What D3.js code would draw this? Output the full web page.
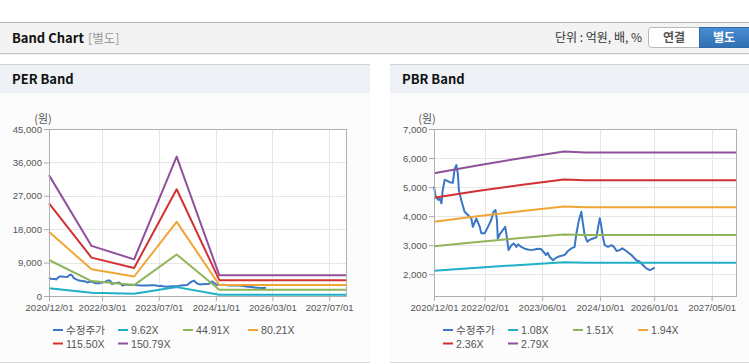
<!DOCTYPE html>
<html>
<head>
<meta charset="utf-8">
<script src="https://cdn.jsdelivr.net/npm/d3@7"></script>
<style>
    html, body { margin: 0; padding: 0; background: #fff; }
    svg { display: block; font-family: "Noto Sans CJK KR", sans-serif; }
    .tick text { font-family: "Liberation Sans", Arial, sans-serif; font-size: 9.6px; fill: #555; }
    .tick line { stroke: #aaa; }
    .grid line { stroke: #e6e6e6; shape-rendering: crispEdges; }
    .band-line { fill: none; stroke-width: 2; stroke-linejoin: round; }
    .legend text { font-family: "Liberation Sans", "Noto Sans CJK KR", sans-serif; font-size: 10.6px; fill: #555; }
</style>
</head>
<body>
<svg id="page" width="749" height="364"></svg>
<script>
'use strict';

// shared x domain
var xDomain = ['2020-12-01', '2027-12-01'];

// 수정주가 (adjusted close)
var priceDates = [
    '2020-12-01', '2020-12-15', '2021-01-06', '2021-01-19', '2021-02-02', '2021-02-13',
    '2021-03-01', '2021-03-16', '2021-04-11', '2021-05-09', '2021-05-23', '2021-06-07',
    '2021-06-20', '2021-06-29', '2021-07-18', '2021-08-16', '2021-09-13', '2021-10-12',
    '2021-10-25', '2021-11-23', '2021-12-22', '2022-01-04', '2022-02-02', '2022-03-01',
    '2022-03-28', '2022-04-17', '2022-05-04', '2022-05-16', '2022-05-23', '2022-06-13',
    '2022-07-04', '2022-07-25', '2022-08-07', '2022-08-22', '2022-09-15', '2022-10-04',
    '2022-10-27', '2022-11-10', '2022-12-07', '2023-01-05', '2023-02-02', '2023-03-01',
    '2023-03-28', '2023-04-25', '2023-05-22', '2023-06-19', '2023-07-04', '2023-07-19',
    '2023-08-03', '2023-09-01', '2023-09-28', '2023-10-26', '2023-12-07', '2024-01-05',
    '2024-02-03', '2024-03-01', '2024-03-16', '2024-04-07', '2024-04-27', '2024-05-10',
    '2024-05-25', '2024-06-16', '2024-07-05', '2024-08-03', '2024-09-01', '2024-09-16',
    '2024-09-30', '2024-10-13', '2024-10-27', '2024-11-10', '2024-12-08', '2025-01-06',
    '2025-01-28', '2025-02-18', '2025-03-16', '2025-04-08', '2025-05-11', '2025-06-23',
    '2025-08-04', '2025-09-01', '2025-09-30', '2025-10-27', '2025-11-25', '2025-12-10',
    '2026-01-06'
];
var priceValues = [
    5020, 4670, 4560, 4600, 4440, 4900,
    5250, 5230, 5170, 5150, 5600, 5760,
    5470, 4900, 4560, 4150, 4040, 3920,
    3630, 3920, 3630, 3410, 3410, 3630,
    3860, 4150, 4210, 3860, 3230, 3400,
    3520, 3630, 3290, 2830, 3000, 3060,
    2940, 3030, 2940, 2880, 2850, 2830,
    2850, 2880, 2870, 2740, 2660, 2740,
    2600, 2480, 2570, 2620, 2660, 2800,
    2890, 2940, 3400, 3870, 4150, 3750,
    3350, 3120, 3180, 3230, 3270, 3640,
    3930, 3640, 3250, 3000, 2940, 3000,
    2940, 2800, 2830, 2890, 2800, 2660,
    2480, 2430, 2310, 2200, 2140, 2170,
    2230
];

// PER band
var perDates = ['2020-12-01', '2021-12-01', '2022-12-01', '2023-12-01', '2024-12-01', '2025-12-01', '2026-12-01', '2027-12-01'];
var per962 = [2078, 861, 630, 2395, 356, 356, 356, 356];
var per4491 = [9700, 4019, 2942, 11183, 1662, 1662, 1662, 1662];
var per8021 = [17325, 7179, 5254, 19972, 2968, 2968, 2968, 2968];
var per11550 = [24948, 10337, 7565, 28760, 4274, 4274, 4274, 4274];
var per15079 = [32571, 13496, 9877, 37547, 5579, 5579, 5579, 5579];
var perYTicks = [0, 9000, 18000, 27000, 36000, 45000];
var perXTicks = ['2020-12-01', '2022-03-01', '2023-07-01', '2024-11-01', '2026-03-01', '2027-07-01'];

// PBR band
var pbrDates = ['2020-12-01', '2021-12-01', '2022-12-01', '2023-12-01', '2024-06-01', '2027-12-01'];
var pbr108 = [2121, 2225, 2320, 2409, 2397, 2397];
var pbr151 = [2966, 3111, 3243, 3369, 3351, 3351];
var pbr194 = [3810, 3996, 4167, 4328, 4305, 4305];
var pbr236 = [4635, 4862, 5069, 5265, 5237, 5237];
var pbr279 = [5480, 5747, 5993, 6224, 6191, 6191];
var pbrYTicks = [2000, 3000, 4000, 5000, 6000, 7000];
var pbrXTicks = ['2020-12-01', '2022-02-01', '2023-06-01', '2024-10-01', '2026-01-01', '2027-05-01'];

var colors = ['#3b77c6', '#1fafc6', '#8fb556', '#f0a634', '#d33131', '#8f509c'];

var parseDate = d3.utcParse('%Y-%m-%d');
var svg = d3.select('#page');

var drawHeader = function(){

    svg.append('rect')
        .attr('x', 0).attr('y', 22)
        .attr('width', 749).attr('height', 31)
        .style('fill', '#f3f3f3')
    ;
    svg.append('line')
        .attr('x1', 0).attr('x2', 749).attr('y1', 22.5).attr('y2', 22.5)
        .style('stroke', '#b4b4b4')
    ;
    svg.append('line')
        .attr('x1', 0).attr('x2', 749).attr('y1', 53.5).attr('y2', 53.5)
        .style('stroke', '#c6c6c6')
    ;
    svg.append('line')
        .attr('x1', 0).attr('x2', 749).attr('y1', 54.5).attr('y2', 54.5)
        .style('stroke', '#ececec')
    ;

    svg.append('text')
        .attr('x', 12).attr('y', 43)
        .style('font-size', '13px').style('font-weight', 'bold').style('fill', '#111')
        .text('Band Chart')
    ;
    svg.append('text')
        .attr('x', 88).attr('y', 43)
        .style('font-size', '12.5px').style('fill', '#999')
        .text('[별도]')
    ;
    svg.append('text')
        .attr('x', 642).attr('y', 42)
        .attr('text-anchor', 'end')
        .style('font-size', '12px').style('fill', '#333')
        .text('단위 : 억원, 배, %')
    ;

    svg.append('rect')
        .attr('x', 648.5).attr('y', 27.5)
        .attr('width', 55).attr('height', 20).attr('rx', 3)
        .style('fill', '#fff').style('stroke', '#b8b8b8')
    ;
    svg.append('text')
        .attr('x', 674).attr('y', 42)
        .attr('text-anchor', 'middle')
        .style('font-size', '12px').style('font-weight', 'bold').style('fill', '#555')
        .text('연결')
    ;

    var grad = svg.append('defs').append('linearGradient')
        .attr('id', 'btnBlue').attr('x1', 0).attr('x2', 0).attr('y1', 0).attr('y2', 1)
    ;
    grad.append('stop').attr('offset', 0).style('stop-color', '#4b8fd2');
    grad.append('stop').attr('offset', 1).style('stop-color', '#2f6fb3');

    svg.append('rect')
        .attr('x', 699.5).attr('y', 27.5)
        .attr('width', 52).attr('height', 20)
        .style('fill', 'url(#btnBlue)').style('stroke', '#2f6aa8')
    ;
    svg.append('text')
        .attr('x', 724).attr('y', 42)
        .attr('text-anchor', 'middle')
        .style('font-size', '12px').style('font-weight', 'bold').style('fill', '#fff')
        .text('별도')
    ;
};

var drawPanel = function(cfg){

    var g = svg.append('g')
        .attr('transform', 'translate(' + cfg.left + ',0)')
    ;

    g.append('rect')
        .attr('x', 0).attr('y', 64)
        .attr('width', cfg.width).attr('height', 299)
        .style('fill', '#fcfcfc')
    ;
    g.append('rect')
        .attr('x', 0).attr('y', 64)
        .attr('width', cfg.width).attr('height', 29)
        .style('fill', '#eef2f7')
    ;
    g.append('line')
        .attr('x1', 0).attr('x2', cfg.width).attr('y1', 64.5).attr('y2', 64.5)
        .style('stroke', '#d4d4d4')
    ;
    g.append('line')
        .attr('x1', 0).attr('x2', cfg.width).attr('y1', 362.5).attr('y2', 362.5)
        .style('stroke', '#d8d8d8')
    ;
    g.append('text')
        .attr('x', 12).attr('y', 84)
        .style('font-size', '13px').style('font-weight', 'bold').style('fill', '#111')
        .text(cfg.title)
    ;

    var plot = cfg.plot;
    var width = plot.right - plot.left;
    var height = plot.bottom - plot.top;

    var x = d3.scaleUtc()
        .domain(xDomain.map(parseDate))
        .range([0, width]);

    var y = d3.scaleLinear()
        .domain(cfg.yDomain)
        .range([height, 0]);

    var p = g.append('g')
        .attr('transform', 'translate(' + (plot.left - cfg.left) + ',' + plot.top + ')')
    ;

    p.append('rect')
        .attr('width', width).attr('height', height)
        .style('fill', '#fff')
    ;

    var grid = p.append('g').attr('class', 'grid');

    grid.selectAll('.hy')
        .data(cfg.yTicks)
        .enter().append('line')
        .attr('x1', 0).attr('x2', width)
        .attr('y1', function(d) { return Math.round(y(d)) + 0.5; })
        .attr('y2', function(d) { return Math.round(y(d)) + 0.5; })
    ;
    grid.selectAll('.vx')
        .data(cfg.xTicks.map(parseDate))
        .enter().append('line')
        .attr('y1', 0).attr('y2', height)
        .attr('x1', function(d) { return Math.round(x(d)) + 0.5; })
        .attr('x2', function(d) { return Math.round(x(d)) + 0.5; })
    ;

    var yAxis = p.append('g')
        .call(d3.axisLeft(y).tickValues(cfg.yTicks).tickSize(5).tickPadding(2).tickFormat(d3.format(',')))
    ;
    yAxis.select('.domain').remove();

    var xAxis = p.append('g')
        .attr('transform', 'translate(0,' + height + ')')
        .call(d3.axisBottom(x).tickValues(cfg.xTicks.map(parseDate)).tickSize(5).tickPadding(3).tickFormat(d3.utcFormat('%Y/%m/%d')))
    ;
    xAxis.select('.domain').remove();

    p.append('text')
        .attr('x', cfg.unitX).attr('y', -6)
        .attr('text-anchor', 'middle')
        .style('font-size', '11px').style('fill', '#555')
        .text('(원)')
    ;

    var line = d3.line()
        .x(function(d) { return x(d.date); })
        .y(function(d) { return y(d.value); });

    var series = cfg.series.map(function(s, index){
        return {
            name: s.name,
            color: colors[index],
            points: s.dates.map(function(date, i){
                return { date: parseDate(date), value: s.values[i] };
            })
        };
    });

    p.selectAll('.band-line')
        .data(series)
        .enter().append('path')
        .attr('class', 'band-line')
        .style('stroke', function(d) { return d.color; })
        .attr('d', function(d) { return line(d.points); })
    ;

    p.append('rect')
        .attr('x', 0.5).attr('y', 0.5)
        .attr('width', width - 1).attr('height', height)
        .style('fill', 'none').style('stroke', '#b0b0b0')
    ;

    var legend = g.append('g').attr('class', 'legend');

    series.forEach(function(s, index){
        var lx = 53 + (index % 4) * 65;
        var ly = 330 + Math.floor(index / 4) * 13.5;

        legend.append('line')
            .attr('x1', lx).attr('x2', lx + 10)
            .attr('y1', ly).attr('y2', ly)
            .style('stroke', s.color).style('stroke-width', 2)
        ;
        legend.append('text')
            .attr('x', lx + 13).attr('y', ly + 4)
            .text(s.name)
        ;
    });
};

drawHeader();

drawPanel({
    title: 'PER Band',
    left: 0,
    width: 370,
    plot: { left: 49, right: 347, top: 129, bottom: 296 },
    unitX: -6,
    yDomain: [0, 45000],
    yTicks: perYTicks,
    xTicks: perXTicks,
    series: [
        { name: '수정주가', dates: priceDates, values: priceValues },
        { name: '9.62X', dates: perDates, values: per962 },
        { name: '44.91X', dates: perDates, values: per4491 },
        { name: '80.21X', dates: perDates, values: per8021 },
        { name: '115.50X', dates: perDates, values: per11550 },
        { name: '150.79X', dates: perDates, values: per15079 }
    ]
});

drawPanel({
    title: 'PBR Band',
    left: 390,
    width: 359,
    plot: { left: 434, right: 737, top: 129, bottom: 296 },
    unitX: -7,
    yDomain: [1250, 7000],
    yTicks: pbrYTicks,
    xTicks: pbrXTicks,
    series: [
        { name: '수정주가', dates: priceDates, values: priceValues },
        { name: '1.08X', dates: pbrDates, values: pbr108 },
        { name: '1.51X', dates: pbrDates, values: pbr151 },
        { name: '1.94X', dates: pbrDates, values: pbr194 },
        { name: '2.36X', dates: pbrDates, values: pbr236 },
        { name: '2.79X', dates: pbrDates, values: pbr279 }
    ]
});
</script>
</body>
</html>
